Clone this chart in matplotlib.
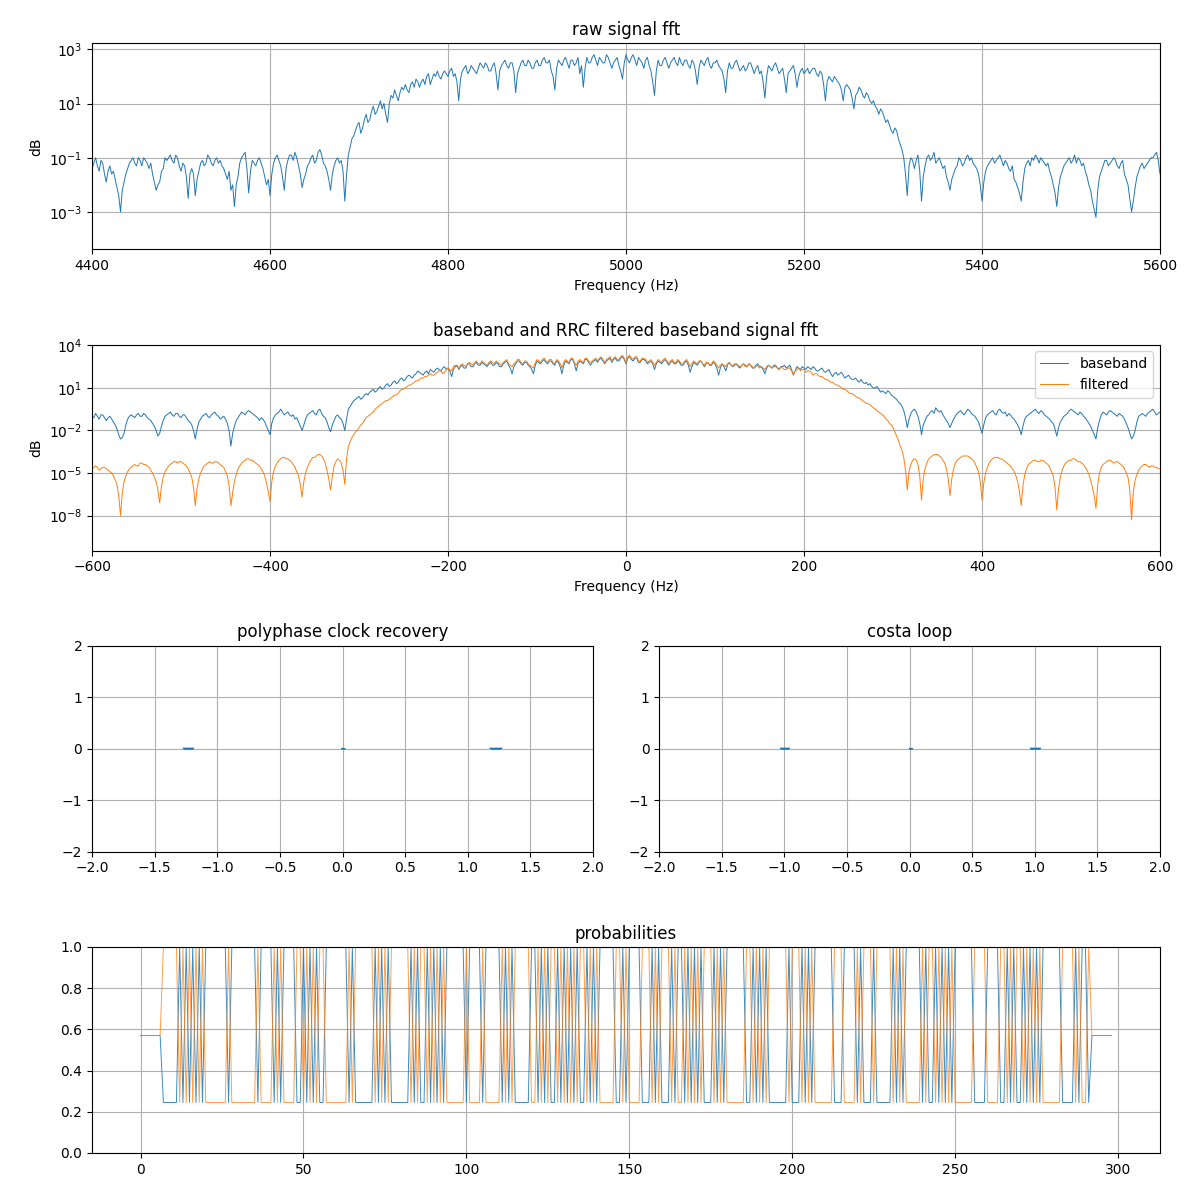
import numpy as np
import matplotlib
matplotlib.use("Agg")
import matplotlib.pyplot as plt

# ---------------- data ----------------
# raw spectrum: frequency grid (Hz) and log10 magnitude
raw_freq_start, raw_freq_step = 4400, 2
raw_log = [
-1.4,-1.2,-1.0,-1.3,-1.5,-1.1,-1.2,-1.6,-1.9,-1.5,-1.3,-1.6,-1.5,-1.8,-2.1,-2.4,-3.0,-2.2,-1.9,-1.6,-1.4,-1.2,-1.1,-1.0,-1.2,-1.3,-1.0,-1.1,-1.3,-1.0,-1.1,-1.2,-1.4,-1.2,-1.6,-1.9,-2.2,-2.0,-1.9,-1.5,
-1.4,-1.0,-1.1,-1.0,-0.9,-1.1,-1.2,-0.9,-1.0,-1.3,-1.5,-1.2,-1.3,-1.7,-2.5,-1.6,-1.4,-1.6,-2.4,-1.8,-1.5,-1.2,-1.1,-1.3,-1.2,-0.9,-1.0,-1.2,-1.3,-1.1,-1.0,-1.2,-1.1,-1.3,-1.4,-1.6,-1.8,-1.5,-2.2,-2.0,
-2.8,-2.0,-1.7,-1.2,-1.0,-0.9,-0.8,-1.4,-2.3,-1.5,-1.1,-1.2,-1.3,-1.1,-1.0,-1.2,-1.4,-1.7,-2.0,-1.8,-2.4,-1.6,-1.2,-1.0,-0.9,-1.1,-1.3,-1.7,-2.2,-1.4,-1.1,-0.9,-0.9,-1.1,-0.8,-1.0,-1.3,-1.6,-2.1,-1.8,
-1.6,-1.3,-1.2,-1.0,-0.9,-1.2,-1.1,-0.8,-0.7,-0.9,-1.2,-1.3,-1.5,-1.8,-2.2,-1.6,-1.3,-1.1,-1.0,-1.2,-1.1,-1.5,-2.6,-1.6,-0.9,-0.6,-0.3,-0.2,0.0,0.2,0.3,-0.1,0.1,0.4,0.6,0.3,0.4,0.7,0.9,0.6,
0.7,0.9,1.1,0.8,1.0,0.6,0.3,1.0,1.3,1.2,1.5,1.3,1.1,1.4,1.6,1.5,1.7,1.5,1.4,1.7,1.8,1.6,1.9,1.8,1.6,1.8,1.9,1.7,2.0,2.1,1.7,1.9,2.1,2.0,2.2,2.0,1.9,2.1,2.2,2.1,
2.0,2.2,2.3,2.0,2.1,1.8,1.1,1.9,2.2,2.3,2.4,2.1,2.2,2.4,2.3,2.2,2.1,2.3,2.5,2.4,2.3,2.5,2.4,2.2,2.2,2.4,2.5,2.1,1.5,2.2,2.4,2.5,2.6,2.4,2.3,2.5,2.5,2.2,1.4,2.1,
2.3,2.5,2.6,2.4,2.4,2.6,2.5,2.3,2.3,2.5,2.6,2.4,2.4,2.6,2.7,2.5,2.5,2.6,2.2,2.0,1.5,2.3,2.6,2.5,2.4,2.6,2.7,2.5,2.3,2.6,2.6,2.4,2.5,2.7,2.1,2.4,1.6,2.3,2.7,2.5,
2.5,2.7,2.8,2.6,2.4,2.7,2.6,2.5,2.5,2.8,2.7,2.5,2.3,2.5,2.6,2.7,2.4,2.2,1.9,2.5,2.8,2.6,2.5,2.7,2.8,2.6,2.4,2.7,2.6,2.5,2.3,2.6,2.7,2.4,2.2,1.8,1.3,2.2,2.6,2.4,
2.4,2.6,2.7,2.5,2.3,2.5,2.6,2.7,2.5,2.4,2.7,2.5,2.4,2.6,2.6,2.4,2.3,2.6,2.5,2.2,1.7,2.3,2.6,2.5,2.4,2.6,2.7,2.4,2.3,2.5,2.5,2.6,2.4,2.3,2.2,1.9,1.4,2.2,2.5,2.3,
2.3,2.5,2.6,2.4,2.2,2.3,2.4,2.2,2.3,2.5,2.5,2.3,2.1,2.3,2.4,2.1,2.2,1.8,1.2,2.0,2.4,2.3,2.2,2.4,2.5,2.3,2.1,2.2,2.3,1.9,1.4,2.1,2.2,2.3,2.4,2.1,1.6,2.0,2.2,2.3,
2.1,2.2,2.3,2.1,2.2,2.3,2.3,2.1,2.0,2.2,2.1,1.7,1.1,1.8,2.0,1.9,1.8,2.0,1.9,1.8,1.7,1.5,1.1,1.6,1.7,1.6,1.5,1.2,0.8,1.3,1.4,1.6,1.5,1.3,1.2,1.4,1.3,1.1,1.0,1.1,
0.9,0.8,0.6,0.8,0.7,0.5,0.3,0.4,0.2,0.0,-0.1,0.1,0.0,-0.3,-0.5,-0.7,-1.0,-1.6,-2.4,-1.3,-1.0,-1.1,-1.4,-1.1,-0.9,-1.5,-2.6,-1.7,-1.3,-1.0,-0.9,-1.1,-1.0,-0.8,-1.2,-1.1,-1.0,-1.2,-1.4,-1.3,
-1.7,-1.9,-2.2,-1.8,-1.6,-1.4,-1.3,-1.0,-1.1,-1.3,-1.2,-1.0,-0.9,-1.1,-1.0,-1.2,-1.3,-1.4,-1.6,-2.0,-2.6,-1.9,-1.5,-1.3,-1.2,-1.1,-1.0,-1.2,-1.1,-1.0,-0.9,-1.1,-1.3,-1.1,-1.2,-1.4,-1.5,-1.3,-1.8,-1.9,
-2.1,-2.3,-2.6,-1.9,-1.4,-1.2,-1.1,-1.3,-1.0,-1.1,-0.9,-1.0,-1.2,-1.0,-1.1,-1.2,-1.3,-1.2,-1.5,-1.7,-2.0,-2.3,-2.8,-2.1,-1.7,-1.5,-1.3,-1.2,-1.1,-1.0,-1.2,-1.1,-0.9,-1.2,-1.0,-1.1,-1.3,-1.2,-1.5,-1.7,
-2.0,-2.2,-2.6,-2.9,-3.2,-2.2,-1.7,-1.5,-1.3,-1.1,-1.1,-1.3,-1.2,-1.1,-1.0,-1.1,-1.3,-1.4,-1.2,-1.1,-1.6,-1.8,-2.0,-2.5,-3.0,-2.6,-2.1,-1.7,-1.5,-1.3,-1.2,-1.4,-1.3,-1.2,-1.1,-1.0,-1.0,-0.9,-0.8,-1.1,
-1.6,
]

# baseband spectra: frequency grid (Hz) and log10 magnitudes
bb_freq_start, bb_freq_step = -600, 2
baseband_log = [
-1.0,-1.1,-0.8,-1.0,-1.2,-0.9,-0.9,-1.1,-1.3,-1.1,-1.0,-1.2,-1.4,-1.6,-1.9,-2.3,-2.6,-2.5,-2.2,-1.6,-1.2,-1.0,-0.9,-1.0,-1.1,-0.9,-0.8,-1.0,-1.0,-0.8,-0.9,-1.1,-1.2,-1.3,-1.5,-1.7,-2.0,-2.4,-2.2,-1.7,
-1.3,-1.0,-0.9,-0.8,-0.7,-0.9,-1.0,-0.8,-0.8,-1.0,-1.1,-0.9,-0.9,-1.1,-1.3,-1.4,-1.6,-2.0,-2.6,-1.9,-1.4,-1.2,-1.0,-0.9,-0.8,-1.0,-1.1,-0.9,-0.8,-0.7,-0.9,-1.0,-1.2,-1.1,-1.0,-1.2,-1.5,-2.0,-3.1,-2.2,
-1.7,-1.3,-1.1,-0.9,-0.7,-0.8,-0.9,-0.7,-0.6,-0.7,-0.8,-0.9,-1.0,-1.1,-1.3,-1.1,-1.2,-1.4,-1.7,-2.0,-2.3,-1.5,-1.1,-0.9,-0.8,-0.7,-0.5,-0.7,-0.9,-0.8,-0.7,-0.9,-1.0,-0.9,-1.2,-1.1,-1.4,-1.7,-2.0,-1.6,
-1.2,-0.9,-0.8,-0.7,-0.6,-0.8,-0.9,-0.6,-0.5,-0.8,-1.0,-1.1,-1.4,-1.8,-2.1,-1.6,-1.3,-1.0,-0.9,-1.1,-1.2,-1.5,-2.0,-1.2,-0.5,-0.3,-0.1,0.1,0.2,0.3,0.4,0.2,0.3,0.5,0.6,0.5,0.7,0.8,0.9,0.7,
0.8,1.0,1.1,0.9,1.0,1.2,1.3,1.1,1.2,1.4,1.5,1.3,1.4,1.6,1.7,1.5,1.6,1.8,1.9,1.8,1.7,1.9,2.0,2.2,2.1,2.0,1.9,2.1,2.2,2.0,2.3,2.2,2.1,2.3,2.4,2.3,2.2,2.4,2.5,2.3,
2.4,2.2,1.8,2.3,2.5,2.6,2.3,2.5,2.6,2.4,2.4,2.7,2.7,2.5,2.5,2.7,2.8,2.6,2.6,2.8,2.7,2.6,2.5,2.7,2.8,2.6,2.6,2.8,2.7,2.5,2.5,2.7,2.8,2.9,2.6,2.4,2.0,2.5,2.7,2.9,
2.9,2.7,2.6,2.8,2.8,2.6,2.5,2.3,2.0,2.6,2.9,2.8,2.7,2.9,3.0,2.8,2.7,2.9,2.9,2.7,2.6,2.9,2.8,2.5,2.0,2.6,2.9,2.8,2.7,3.0,3.0,2.7,2.2,2.7,2.9,2.8,2.7,3.0,3.0,2.8,
2.6,2.8,2.9,3.0,2.8,3.0,3.1,2.9,2.7,2.9,3.0,3.1,2.8,3.0,3.1,2.9,2.9,3.1,3.2,3.0,2.7,3.1,3.2,3.0,2.9,3.1,3.1,2.8,2.8,3.0,3.0,2.9,2.7,2.8,2.9,2.7,2.3,2.7,2.9,2.8,
2.7,2.9,3.0,2.8,2.6,2.8,2.9,2.7,2.7,2.9,2.8,2.6,2.6,2.8,2.9,2.6,2.1,2.5,2.8,2.7,2.6,2.8,2.9,2.7,2.5,2.7,2.8,2.6,2.6,2.8,2.7,2.4,1.9,2.4,2.7,2.5,2.2,2.6,2.8,2.6,
2.5,2.6,2.7,2.5,2.4,2.6,2.7,2.6,2.5,2.7,2.6,2.4,2.4,2.6,2.7,2.5,2.5,2.3,2.0,2.4,2.6,2.5,2.4,2.6,2.6,2.4,2.3,2.5,2.5,2.6,2.4,2.5,2.6,2.3,1.9,2.2,2.5,2.4,2.3,2.5,
2.4,2.3,2.5,2.4,2.3,2.5,2.4,2.2,2.2,2.3,2.4,2.2,2.1,2.2,2.3,2.0,1.8,2.0,2.1,1.9,2.0,2.1,1.9,1.7,1.8,1.9,1.7,1.6,1.6,1.7,1.5,1.4,1.6,1.4,1.3,1.4,1.2,1.3,1.1,1.0,
1.0,1.1,0.9,0.7,0.8,0.7,0.6,0.8,0.7,0.5,0.4,0.3,0.2,0.0,-0.1,-0.3,-0.6,-1.1,-1.8,-1.2,-0.8,-0.6,-0.5,-0.7,-1.0,-1.5,-2.3,-1.6,-1.3,-1.0,-0.9,-0.7,-0.6,-0.8,-0.4,-0.6,-0.7,-0.6,-0.9,-1.1,
-1.3,-1.5,-1.8,-1.5,-1.2,-1.0,-0.8,-0.7,-0.6,-0.8,-0.9,-0.7,-0.5,-0.6,-0.8,-0.9,-1.0,-1.2,-1.4,-1.8,-2.2,-1.6,-1.1,-0.9,-0.8,-0.7,-0.6,-0.8,-0.9,-0.6,-0.5,-0.7,-0.8,-0.7,-1.0,-0.8,-0.9,-1.1,-1.2,-1.4,
-1.6,-1.9,-2.3,-1.7,-1.2,-1.0,-0.9,-0.8,-0.7,-0.6,-0.5,-0.7,-0.8,-0.6,-0.7,-0.9,-1.0,-1.1,-1.2,-1.4,-1.5,-1.9,-2.4,-1.8,-1.4,-1.2,-1.0,-0.9,-0.8,-0.6,-0.5,-0.6,-0.7,-0.8,-0.9,-0.7,-0.8,-1.0,-1.1,-1.3,
-1.5,-1.7,-2.0,-2.3,-2.6,-1.8,-1.3,-0.9,-0.7,-0.8,-0.9,-0.7,-0.6,-0.7,-0.8,-0.9,-1.0,-0.8,-0.9,-1.0,-1.2,-1.5,-1.8,-2.2,-2.6,-2.4,-2.0,-1.4,-1.0,-0.9,-0.8,-0.9,-1.0,-0.8,-0.7,-0.6,-0.5,-0.7,-0.9,-0.8,
-0.7,
]
filtered_log = [
-4.7,-4.6,-4.5,-4.6,-4.8,-4.7,-4.6,-4.6,-4.7,-4.8,-4.9,-5.0,-5.2,-5.5,-5.8,-6.6,-8.0,-6.4,-5.6,-5.2,-4.9,-4.7,-4.6,-4.5,-4.4,-4.5,-4.5,-4.3,-4.3,-4.4,-4.4,-4.5,-4.6,-4.8,-5.0,-5.3,-5.6,-6.2,-7.1,-5.9,
-5.3,-4.9,-4.7,-4.5,-4.4,-4.3,-4.2,-4.2,-4.3,-4.2,-4.2,-4.3,-4.4,-4.5,-4.7,-5.0,-5.3,-6.0,-7.3,-6.1,-5.4,-5.0,-4.7,-4.5,-4.4,-4.3,-4.2,-4.3,-4.3,-4.2,-4.2,-4.3,-4.4,-4.5,-4.6,-4.9,-5.2,-5.9,-7.3,-6.4,
-5.6,-5.1,-4.7,-4.5,-4.3,-4.2,-4.1,-4.0,-4.0,-4.1,-4.1,-4.2,-4.3,-4.4,-4.5,-4.7,-4.9,-5.2,-5.7,-6.3,-7.0,-5.6,-4.9,-4.5,-4.3,-4.1,-4.0,-3.9,-3.9,-4.0,-4.0,-4.1,-4.2,-4.4,-4.6,-4.9,-5.2,-5.8,-6.7,-5.6,
-5.0,-4.6,-4.3,-4.1,-3.9,-3.9,-3.8,-3.7,-3.7,-3.8,-4.0,-4.3,-4.8,-5.4,-6.2,-5.2,-4.5,-4.2,-4.0,-4.1,-4.3,-4.8,-5.8,-4.0,-3.1,-2.8,-2.5,-2.3,-2.1,-2.0,-1.8,-1.6,-1.5,-1.3,-1.1,-1.0,-0.9,-0.8,-0.7,-0.5,
-0.4,-0.3,-0.2,-0.1,0.0,0.1,0.1,0.2,0.3,0.4,0.5,0.5,0.6,0.8,0.9,0.9,1.0,1.1,1.2,1.2,1.3,1.4,1.5,1.5,1.6,1.7,1.7,1.8,1.8,1.9,2.0,1.9,1.9,2.0,2.1,2.2,2.2,2.0,2.1,2.3,
2.4,2.3,2.2,2.5,2.6,2.5,2.4,2.6,2.7,2.6,2.5,2.7,2.8,2.7,2.6,2.8,2.9,2.7,2.7,2.9,2.8,2.7,2.6,2.8,2.9,2.8,2.7,2.9,2.8,2.7,2.6,2.8,2.9,3.0,2.7,2.6,2.5,2.7,2.8,3.0,
3.0,2.8,2.7,2.9,2.9,2.7,2.6,2.5,2.4,2.8,3.0,2.9,2.8,3.0,3.1,2.9,2.8,3.0,3.0,2.8,2.7,3.0,2.9,2.7,2.4,2.8,3.0,2.9,2.8,3.1,3.1,2.8,2.6,2.9,3.0,2.9,2.8,3.1,3.1,2.9,
2.8,2.9,3.0,3.1,2.9,3.1,3.2,3.0,2.8,3.0,3.1,3.2,2.9,3.1,3.2,3.0,3.0,3.2,3.3,3.1,2.8,3.2,3.3,3.1,3.0,3.2,3.2,2.9,2.9,3.1,3.1,3.0,2.8,2.9,3.0,2.8,2.6,2.8,3.0,2.9,
2.8,3.0,3.1,2.9,2.7,2.9,3.0,2.8,2.8,3.0,2.9,2.7,2.7,2.9,3.0,2.8,2.5,2.7,2.9,2.8,2.7,2.9,2.9,2.7,2.6,2.8,2.8,2.6,2.7,2.9,2.8,2.6,2.4,2.6,2.7,2.6,2.5,2.7,2.8,2.6,
2.6,2.7,2.7,2.6,2.5,2.6,2.7,2.5,2.5,2.7,2.6,2.5,2.4,2.5,2.6,2.4,2.5,2.4,2.3,2.5,2.6,2.5,2.4,2.5,2.5,2.4,2.3,2.5,2.4,2.3,2.3,2.4,2.4,2.2,2.0,2.2,2.3,2.4,2.2,2.3,
2.3,2.1,2.2,2.2,2.1,1.9,2.0,2.0,1.9,1.8,1.8,1.7,1.6,1.6,1.5,1.4,1.4,1.3,1.2,1.2,1.1,1.0,0.9,0.9,0.8,0.7,0.6,0.6,0.5,0.4,0.3,0.3,0.2,0.1,0.0,-0.1,-0.1,-0.2,-0.3,-0.4,
-0.5,-0.6,-0.7,-0.8,-0.9,-1.0,-1.2,-1.3,-1.5,-1.6,-1.8,-2.1,-2.4,-2.7,-3.1,-3.4,-3.9,-4.8,-6.2,-4.9,-4.4,-4.1,-4.0,-4.1,-4.4,-5.2,-6.9,-5.4,-4.7,-4.3,-4.0,-3.9,-3.8,-3.7,-3.7,-3.7,-3.8,-3.9,-4.1,-4.3,
-4.7,-5.4,-6.6,-5.4,-4.7,-4.3,-4.1,-4.0,-3.9,-3.8,-3.8,-3.8,-3.8,-3.9,-4.0,-4.1,-4.3,-4.6,-4.9,-5.6,-6.9,-5.7,-5.0,-4.6,-4.3,-4.1,-4.0,-3.9,-3.9,-3.9,-4.0,-4.0,-4.1,-4.2,-4.3,-4.4,-4.5,-4.7,-4.9,-5.2,
-5.6,-6.3,-7.3,-5.9,-5.1,-4.7,-4.4,-4.3,-4.2,-4.1,-4.1,-4.2,-4.2,-4.1,-4.1,-4.2,-4.3,-4.4,-4.6,-4.9,-5.2,-6.0,-7.6,-6.1,-5.3,-4.8,-4.5,-4.3,-4.2,-4.1,-4.1,-4.0,-4.0,-4.1,-4.2,-4.2,-4.3,-4.4,-4.6,-4.8,
-5.1,-5.5,-6.0,-6.6,-7.5,-5.8,-5.0,-4.6,-4.4,-4.3,-4.2,-4.1,-4.1,-4.2,-4.3,-4.2,-4.2,-4.3,-4.4,-4.5,-4.7,-5.0,-5.3,-6.2,-8.3,-6.3,-5.5,-5.1,-4.8,-4.6,-4.5,-4.4,-4.4,-4.5,-4.6,-4.5,-4.5,-4.6,-4.6,-4.7,
-4.7,
]

# constellation clusters (I, Q); NaN separates the three clusters
nan = float("nan")
clock_i = [-1.27, -1.19, -1.20, -1.26, nan, -0.005, 0.02, 0.0, nan, 1.18, 1.27, 1.26, 1.19]
clock_q = [0.008, 0.008, -0.006, -0.006, nan, 0.0, 0.0, 0.004, nan, 0.008, 0.008, -0.006, -0.006]
costa_i = [-1.03, -0.96, -0.97, -1.02, nan, 0.0, 0.024, 0.005, nan, 0.967, 1.045, 1.04, 0.97]
costa_q = [0.008, 0.008, -0.006, -0.006, nan, 0.0, 0.0, 0.004, nan, 0.008, 0.008, -0.006, -0.006]

# probabilities: idle value at start/end, then decided bits (1 -> blue high / orange low)
p_idle, p_low, p_high = 0.57, 0.245, 1.0
n_idle_start, n_idle_end = 7, 7
bits = [
0,0,0,0,0, 1,0,1,0,1,0,1,0, 1,1,1,1,1,1,1, 0, 1,1,1,1,1,1,1,1, 0, 1,1,1,1,
0,1,0,1,1,1,1, 0,0, 1,0,1,0,1,0,0, 1,1,1,1,1,1,1, 0,1, 0,0,0,0,0,0, 1,0,1,0,1,
0,0,0,0,0,0, 1,0,1,0,0,1,0,1,0,1,0, 1,1,1,1,1,1, 0, 1,1,1,1, 0, 1,1,1,1,1,
0,1,0,1, 0,0,0,0,0, 1,1,0,1,0,1,0,0,1,0, 1,0,1,0,1,0,0,1,0,1,0, 1,1,1,1,1,
0,0,1,0, 1,1,1,1, 0,0,0, 1,0,1,0,0,0, 1,0,1,1,0,1,0,1, 0,1,0,0,0,1,0,1,0,
1,1,1,1,1,1, 0,0,1,0,1,0,1,0, 0,0,0,0,0, 1,0,0,0,1,0,1,0, 1,1,1,1,1,1, 0,0,0,
1,1,1,1, 0,1, 0,0,0, 1, 0,0,0,0,0, 1,0,1,0, 1,1,1,1,1, 0,1,0,0,1,0,1,0,1,0,
1,1,1,1,1,1, 0,0,0,0, 1,1,1,1, 0,0,1,0,1,0,0,1,0,1,0,1,0, 1,1,1,1,1,1,
0,0,0,0, 1,0,1,1,0,
]

# ---------------- figure ----------------
fig = plt.figure(figsize=(12, 12), dpi=100)
gs = fig.add_gridspec(4, 2, left=0.0767, right=0.9667, top=0.9639, bottom=0.0392,
                      hspace=0.462, wspace=0.132)

c_blue, c_orange = "#1f77b4", "#ff7f0e"

# raw signal fft
ax1 = fig.add_subplot(gs[0, :])
raw_f = raw_freq_start + raw_freq_step * np.arange(len(raw_log))
ax1.plot(raw_f, 10.0 ** np.array(raw_log), color=c_blue, lw=0.7)
ax1.set_yscale("log")
ax1.set_xlim(4400, 5600)
ax1.set_ylim(10 ** -4.38, 10 ** 3.22)
ax1.set_yticks([1e-3, 1e-1, 1e1, 1e3])
ax1.set_title("raw signal fft")
ax1.set_xlabel("Frequency (Hz)")
ax1.set_ylabel("dB")
ax1.grid(True)

# baseband and filtered fft
ax2 = fig.add_subplot(gs[1, :])
bb_f = bb_freq_start + bb_freq_step * np.arange(len(baseband_log))
ax2.plot(bb_f, 10.0 ** np.array(baseband_log), color=c_blue, lw=0.7, label="baseband")
ax2.plot(bb_f, 10.0 ** np.array(filtered_log), color=c_orange, lw=0.7, label="filtered")
ax2.set_yscale("log")
ax2.set_xlim(-600, 600)
ax2.set_ylim(10 ** -10.47, 10 ** 4.06)
ax2.set_yticks([1e-8, 1e-5, 1e-2, 1e1, 1e4])
ax2.set_title("baseband and RRC filtered baseband signal fft")
ax2.set_xlabel("Frequency (Hz)")
ax2.set_ylabel("dB")
ax2.grid(True)
ax2.legend(loc="upper right")

# constellations
ax3 = fig.add_subplot(gs[2, 0])
ax3.plot(clock_i, clock_q, color=c_blue, lw=1.0)
ax3.set_xlim(-2, 2)
ax3.set_ylim(-2, 2)
ax3.set_title("polyphase clock recovery")
ax3.grid(True)

ax4 = fig.add_subplot(gs[2, 1])
ax4.plot(costa_i, costa_q, color=c_blue, lw=1.0)
ax4.set_xlim(-2, 2)
ax4.set_ylim(-2, 2)
ax4.set_title("costa loop")
ax4.grid(True)

# probabilities
ax5 = fig.add_subplot(gs[3, :])
b = np.array(bits)
p1 = np.concatenate([np.full(n_idle_start, p_idle), np.where(b == 1, p_high, p_low), np.full(n_idle_end, p_idle)])
p0 = np.concatenate([np.full(n_idle_start, p_idle), np.where(b == 1, p_low, p_high), np.full(n_idle_end, p_idle)])
x = np.arange(len(p1))
ax5.plot(x, p1, color=c_blue, lw=0.7, alpha=0.85)
ax5.plot(x, p0, color=c_orange, lw=0.7, alpha=0.75)
ax5.set_ylim(0, 1)
ax5.set_title("probabilities")
ax5.grid(True)

fig.savefig("out.png", dpi=100)
